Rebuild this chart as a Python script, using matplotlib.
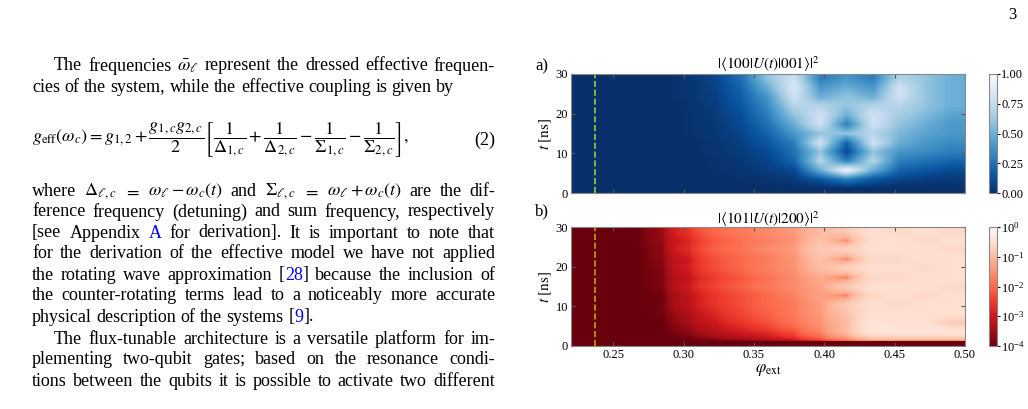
import re
import numpy as np
import matplotlib
matplotlib.use("Agg")
import matplotlib.pyplot as plt
from matplotlib.colors import LogNorm

plt.rcParams['mathtext.fontset'] = 'stix'
plt.rcParams['font.family'] = ['Liberation Serif', 'DejaVu Serif']

phi = [0.22, 0.24, 0.26, 0.28, 0.30, 0.32, 0.34, 0.36, 0.38, 0.40, 0.42, 0.44, 0.46, 0.48, 0.50]
t_ns = [30, 27.5, 25, 22.5, 20, 17.5, 15, 12.5, 10, 7.5, 5, 2.5, 0]

pop_a = [
    [0, 0, 0, 0, 0.02, 0.08, 0.25, 0.60, 0.80, 0.30, 0.40, 0.30, 0.70, 0.60, 0.50],
    [0, 0, 0, 0, 0.02, 0.07, 0.20, 0.50, 0.85, 0.40, 0.50, 0.40, 0.80, 0.60, 0.50],
    [0, 0, 0, 0, 0.02, 0.06, 0.18, 0.40, 0.80, 0.50, 0.60, 0.50, 0.80, 0.60, 0.50],
    [0, 0, 0, 0, 0.01, 0.05, 0.15, 0.35, 0.70, 0.70, 0.60, 0.70, 0.70, 0.60, 0.50],
    [0, 0, 0, 0, 0.01, 0.04, 0.12, 0.30, 0.60, 0.80, 0.50, 0.80, 0.65, 0.55, 0.45],
    [0, 0, 0, 0, 0.01, 0.03, 0.10, 0.25, 0.50, 0.80, 0.30, 0.80, 0.60, 0.50, 0.40],
    [0, 0, 0, 0, 0.01, 0.03, 0.08, 0.20, 0.40, 0.60, 0.60, 0.70, 0.55, 0.45, 0.40],
    [0, 0, 0, 0, 0.00, 0.02, 0.06, 0.15, 0.30, 0.80, 0.20, 0.80, 0.50, 0.40, 0.35],
    [0, 0, 0, 0, 0.00, 0.02, 0.05, 0.10, 0.25, 0.60, 0.10, 0.60, 0.40, 0.35, 0.30],
    [0, 0, 0, 0, 0.00, 0.01, 0.03, 0.08, 0.20, 0.70, 0.30, 0.70, 0.30, 0.25, 0.20],
    [0, 0, 0, 0, 0.00, 0.01, 0.02, 0.05, 0.10, 0.50, 0.95, 0.50, 0.20, 0.15, 0.10],
    [0, 0, 0, 0, 0.00, 0.00, 0.01, 0.02, 0.04, 0.15, 0.30, 0.15, 0.08, 0.05, 0.04],
    [0, 0, 0, 0, 0.00, 0.00, 0.00, 0.00, 0.00, 0.00, 0.00, 0.00, 0.00, 0.00, 0.00],
]

log_pop_b = [
    [-4, -4, -4, -3.6, -2.6, -2.0, -1.8, -1.6, -1.4, -1.0, -0.8, -0.5, -0.6, -0.5, -0.6],
    [-4, -4, -4, -3.6, -2.8, -2.2, -1.9, -1.7, -1.5, -0.9, -1.6, -0.5, -0.5, -0.6, -0.5],
    [-4, -4, -4, -3.7, -2.7, -2.1, -1.9, -1.6, -1.4, -0.8, -0.7, -0.5, -0.5, -0.5, -0.6],
    [-4, -4, -4, -3.7, -3.0, -2.3, -2.0, -1.8, -1.5, -0.9, -1.8, -0.6, -0.6, -0.5, -0.5],
    [-4, -4, -4, -3.8, -2.9, -2.3, -2.0, -1.7, -1.5, -1.0, -0.7, -0.5, -0.5, -0.6, -0.5],
    [-4, -4, -4, -3.8, -3.1, -2.5, -2.2, -1.9, -1.6, -1.2, -1.9, -0.6, -0.6, -0.5, -0.5],
    [-4, -4, -4, -3.8, -3.0, -2.4, -2.1, -1.8, -1.6, -1.3, -0.8, -0.5, -0.5, -0.5, -0.6],
    [-4, -4, -4, -3.9, -3.2, -2.6, -2.3, -2.0, -1.7, -1.3, -1.7, -0.6, -0.5, -0.6, -0.5],
    [-4, -4, -4, -3.9, -3.2, -2.6, -2.3, -2.0, -1.8, -1.4, -0.8, -0.5, -0.6, -0.5, -0.5],
    [-4, -4, -4, -3.9, -3.4, -2.8, -2.4, -2.1, -1.8, -1.4, -0.9, -0.5, -0.5, -0.5, -0.5],
    [-4, -4, -4, -4.0, -3.5, -3.0, -2.6, -2.3, -1.9, -1.5, -1.0, -0.4, -0.5, -0.5, -0.8],
    [-4, -4, -4, -4.0, -3.7, -3.3, -3.0, -2.7, -2.3, -1.7, -1.0, -0.4, -0.4, -0.4, -0.4],
    [-4, -4, -4, -4.0, -4.0, -4.0, -4.0, -4.0, -4.0, -4.0, -4.0, -4.0, -4.0, -4.0, -4.0],
]

marker_phi = 0.237
xticks = [0.25, 0.30, 0.35, 0.40, 0.45, 0.50]
yticks = [0, 10, 20, 30]

W, H = 1028, 409
fig = plt.figure(figsize=(W / 100, H / 100), dpi=100)

def ax_px(x0, y0, x1, y1):
    return fig.add_axes([x0 / W, 1 - y1 / H, (x1 - x0) / W, (y1 - y0) / H])

fs = 9
ext = [phi[0], phi[-1], 0, 30]

axa = ax_px(571, 74, 965, 193)
ima = axa.imshow(np.array(pop_a), extent=ext, aspect='auto', cmap='Blues_r',
                 vmin=0, vmax=1, interpolation='bilinear')
axa.axvline(marker_phi, color='#9acd32', ls='--', lw=1.2)
axa.set_title(r'$|\langle 100|U(t)|001\rangle|^2$', fontsize=11, pad=2)
axa.set_ylabel(r'$t\ [\mathrm{ns}]$', fontsize=11, labelpad=1)
axa.set_xticks(xticks)
axa.set_xticklabels([])
axa.set_xlim(phi[0], phi[-1])
caxa = ax_px(989, 74, 997, 193)
cba = fig.colorbar(ima, cax=caxa, ticks=[0, 0.25, 0.5, 0.75, 1.0])
cba.ax.set_yticklabels(['0.00', '0.25', '0.50', '0.75', '1.00'])

axb = ax_px(571, 227, 965, 346)
imb = axb.imshow(10.0 ** np.array(log_pop_b), extent=ext, aspect='auto', cmap='Reds_r',
                 norm=LogNorm(vmin=1e-4, vmax=1), interpolation='bilinear')
axb.axvline(marker_phi, color='#c8a000', ls='--', lw=1.2)
axb.set_title(r'$|\langle 101|U(t)|200\rangle|^2$', fontsize=11, pad=2)
axb.set_ylabel(r'$t\ [\mathrm{ns}]$', fontsize=11, labelpad=1)
axb.set_xlabel(r'$\varphi_{\mathrm{ext}}$', fontsize=12, labelpad=1)
axb.set_xticks(xticks)
axb.set_xticklabels(['0.25', '0.30', '0.35', '0.40', '0.45', '0.50'])
axb.set_xlim(phi[0], phi[-1])
caxb = ax_px(989, 227, 997, 346)
cbb = fig.colorbar(imb, cax=caxb)
caxb.minorticks_off()

for ax in (axa, axb):
    ax.set_yticks(yticks)
    ax.tick_params(direction='in', top=True, right=True, labelsize=fs, length=3, pad=2,
                   color='#555555')
    for s in ax.spines.values():
        s.set_color('#888888')
for cax in (caxa, caxb):
    cax.tick_params(labelsize=fs, length=2, pad=1)
    cax.spines[:].set_color('#888888')

fig.text(535 / W, 1 - 66 / H, 'a)', fontsize=12, va='center')
fig.text(535 / W, 1 - 211 / H, 'b)', fontsize=12, va='center')
fig.text(1008 / W, 1 - 15 / H, '3', fontsize=12, va='center')

tfs = 13
BLUE = '#0000ee'
lines = [
    (54, 66, r'The frequencies $\bar{\omega}_\ell$ represent the dressed effective frequen-', True),
    (32, 88, 'cies of the system, while the effective coupling is given by', False),
    (32, 191, r'where $\Delta_{\ell,c}$ $=$ $\omega_\ell-\omega_c(t)$ and $\Sigma_{\ell,c}$ $=$ $\omega_\ell+\omega_c(t)$ are the dif-', True),
    (32, 212, 'ference frequency (detuning) and sum frequency, respectively', True),
    (32, 233, '[see Appendix §A§ for derivation].  It is important to note that', True),
    (32, 254, 'for the derivation of the effective model we have not applied', True),
    (32, 275, 'the rotating wave approximation [§28§] because the inclusion of', True),
    (32, 296, 'the counter-rotating terms lead to a noticeably more accurate', True),
    (32, 317, 'physical description of the systems [§9§].', False),
    (54, 339, 'The flux-tunable architecture is a versatile platform for im-', True),
    (32, 360, 'plementing two-qubit gates; based on the resonance condi-', True),
    (32, 381, 'tions between the qubits it is possible to activate two different', True),
]
right_edge = 495
fig.canvas.draw()
r = fig.canvas.get_renderer()

def width(s):
    t = fig.text(0, 0, s, fontsize=tfs)
    w = t.get_window_extent(r).width
    t.remove()
    return w

space_w = width('a b') - width('ab')
for x, y, s, just in lines:
    words = s.split()
    pieces = []
    for wd in words:
        parts = re.split(r'(§[^§]*§)', wd)
        pl = []
        for p in parts:
            if not p:
                continue
            if p.startswith('§'):
                pl.append((p[1:-1], BLUE))
            else:
                pl.append((p, 'black'))
        pieces.append([(p, c, width(p)) for p, c in pl])
    wsum = sum(sum(w for _, _, w in pw) for pw in pieces)
    gap = (right_edge - x - wsum) / (len(pieces) - 1) if just else space_w
    cx = x
    for pw in pieces:
        for p, c, w in pw:
            fig.text(cx / W, 1 - y / H, p, fontsize=tfs, va='center', ha='left', color=c)
            cx += w
        cx += gap

eq = (r'$g_{\mathrm{eff}}(\omega_c) = g_{1,2} + \dfrac{g_{1,c}g_{2,c}}{2}'
      r'\left[\dfrac{1}{\Delta_{1,c}} + \dfrac{1}{\Delta_{2,c}} - \dfrac{1}{\Sigma_{1,c}} - \dfrac{1}{\Sigma_{2,c}}\right],$')
fig.text(32 / W, 1 - 140 / H, eq, fontsize=13, va='center', ha='left')
fig.text(495 / W, 1 - 140 / H, '(2)', fontsize=tfs, va='center', ha='right')

fig.savefig('out.png', dpi=100)
